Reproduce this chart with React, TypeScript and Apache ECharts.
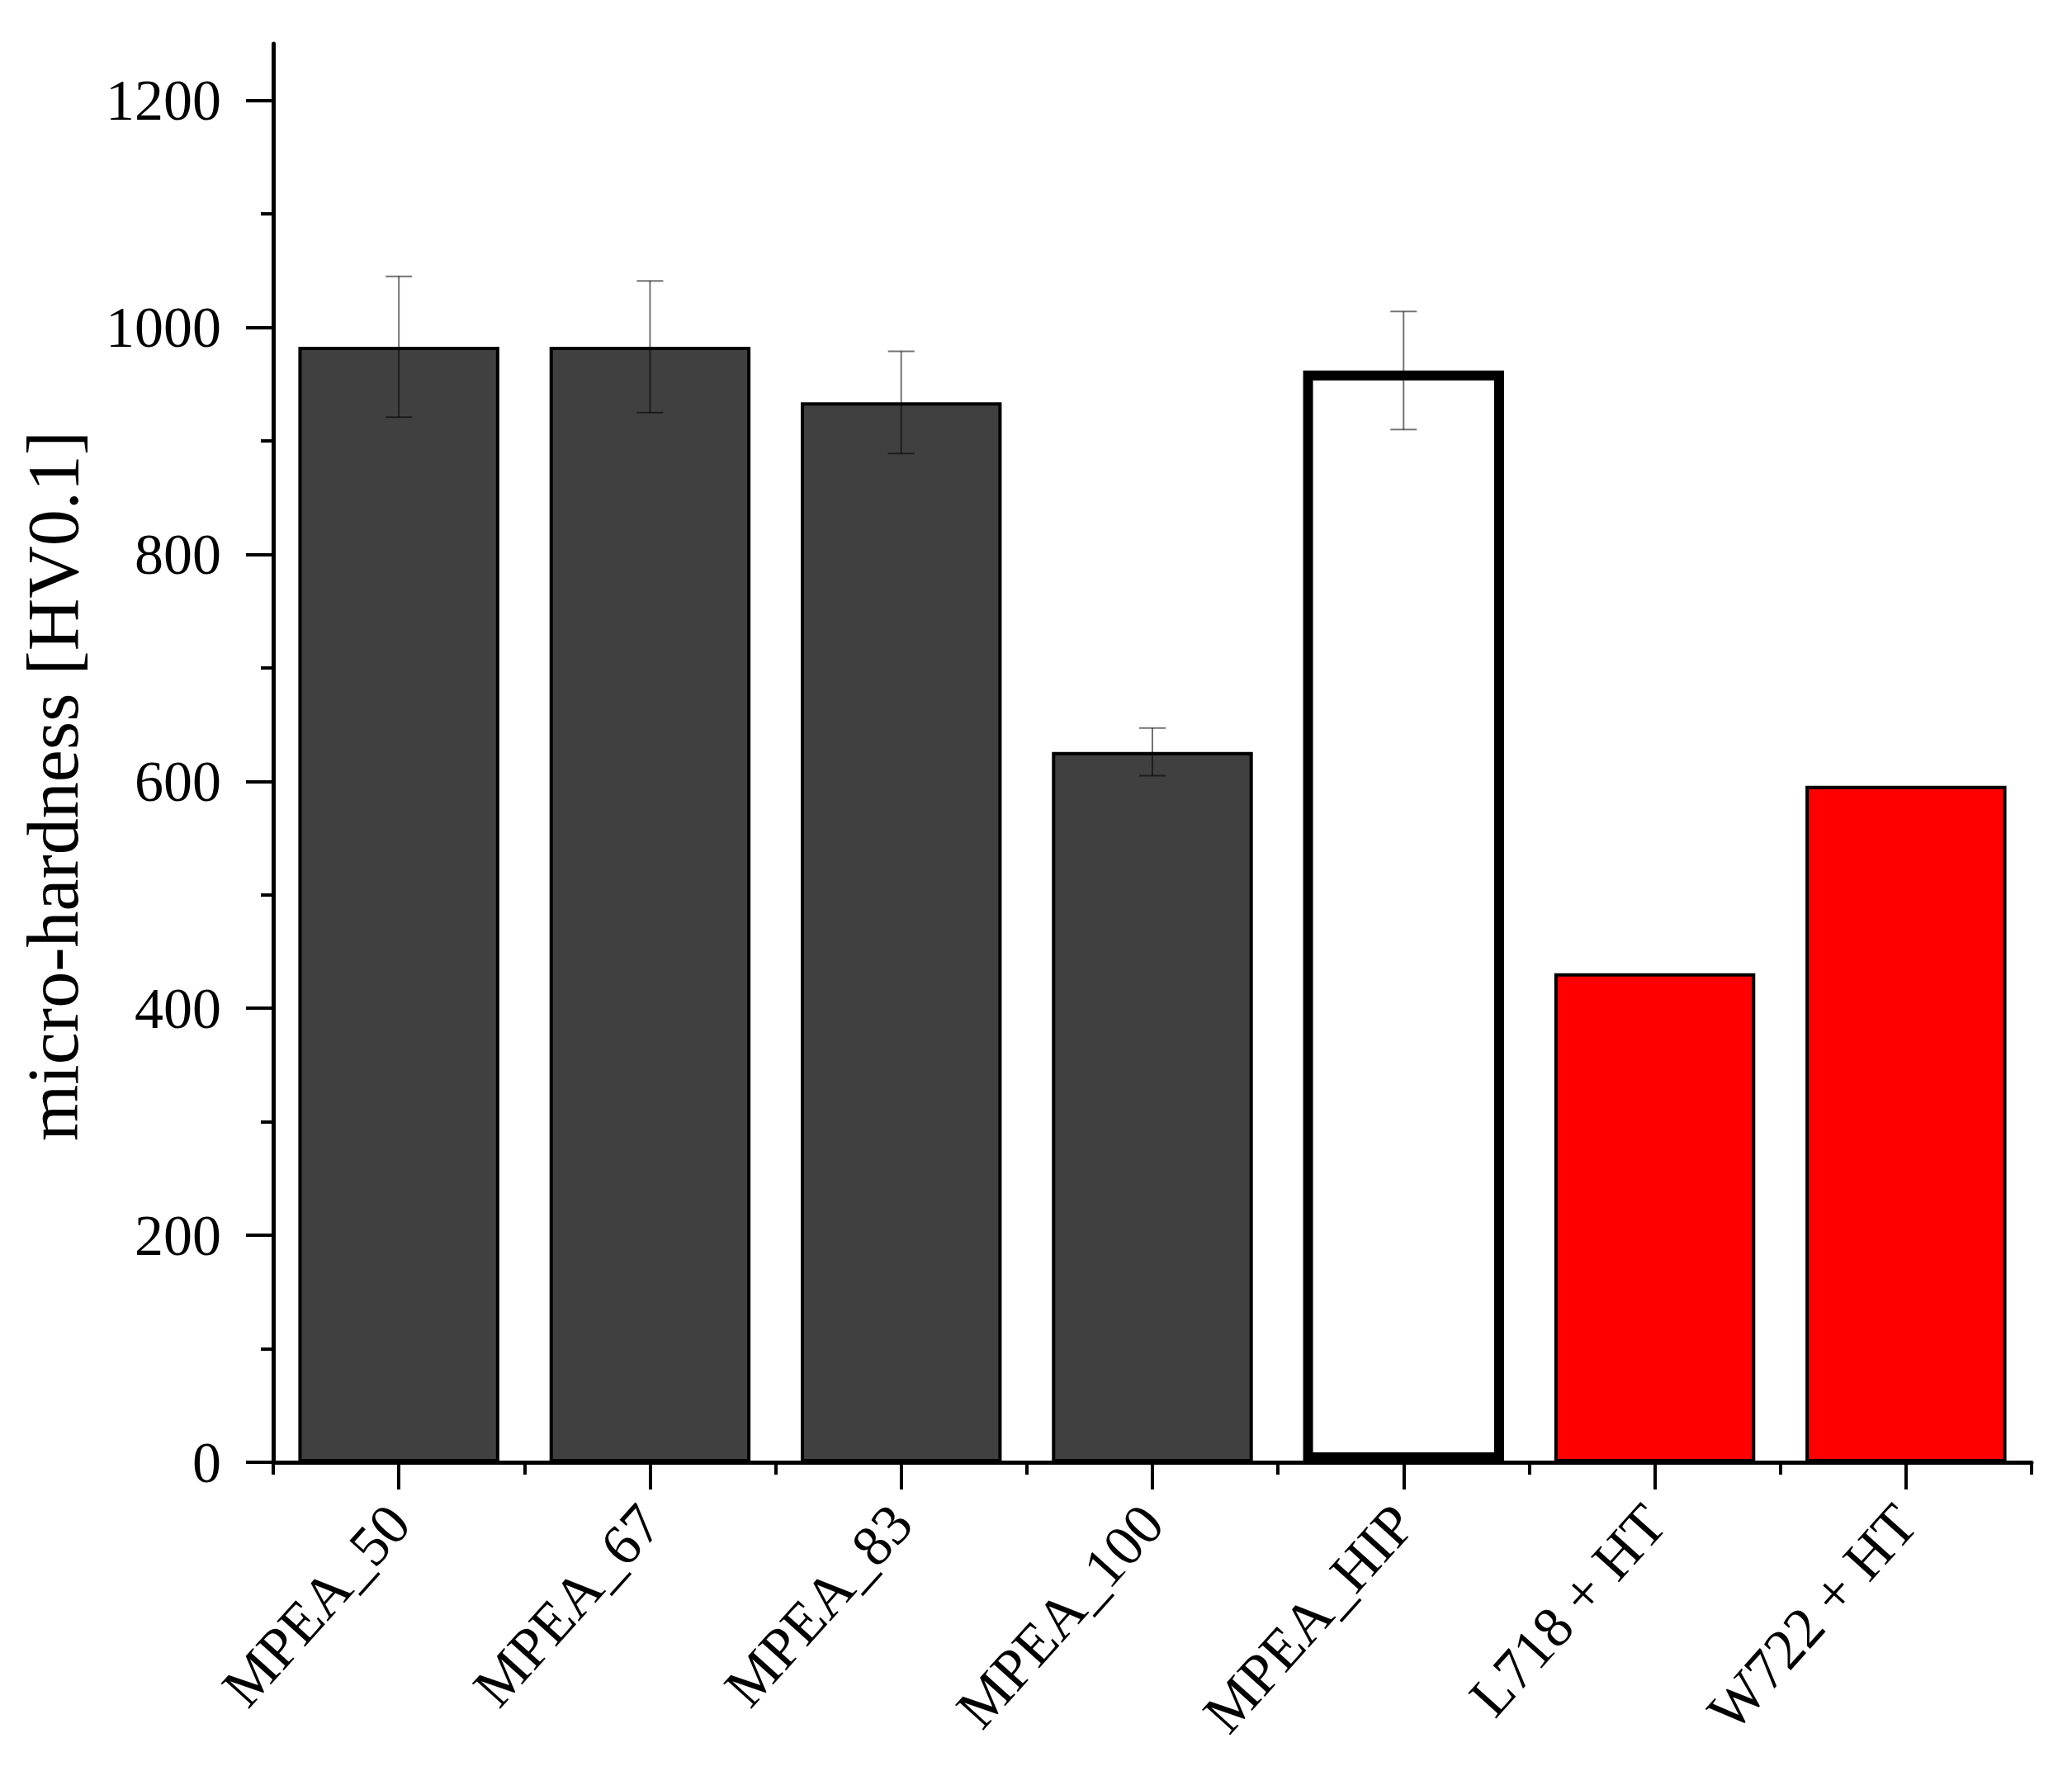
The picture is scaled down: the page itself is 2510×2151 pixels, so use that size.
import React, { useEffect, useRef } from "react";
import * as echarts from "echarts";

const categories = ["MPEA_50", "MPEA_67", "MPEA_83", "MPEA_100", "MPEA_HIP", "L718 + HT", "W722 + HT"];
const hardness = [983, 983, 934, 626, 962, 431, 596];
const hardnessErr = [62, 58, 45, 21, 52, null, null];
const groups = ["MPEA", "MPEA", "MPEA", "MPEA", "HIP", "ref", "ref"];
const yMajorTicks = [0, 200, 400, 600, 800, 1000, 1200];
const yMinorTicks = [100, 300, 500, 700, 900, 1100];
const yTitle = "micro-hardness [HV0.1]";

const FONT = "'Liberation Serif', 'Times New Roman', serif";

const groupStyles: Record<string, any> = {
  MPEA: { color: "#404040", borderColor: "#000", borderWidth: 4 },
  HIP: { color: "#ffffff", borderColor: "#000", borderWidth: 12 },
  ref: { color: "#ff0000", borderColor: "#000", borderWidth: 4 },
};

export default function App() {
  const ref = useRef<HTMLDivElement>(null);
  useEffect(() => {
    if (!ref.current) return;
    const chart = echarts.init(ref.current, null, { renderer: "svg" });
    const errData = hardness
      .map((v, i) => (hardnessErr[i] == null ? null : [i, v - (hardnessErr[i] as number), v + (hardnessErr[i] as number)]))
      .filter((d) => d !== null);
    const errStroke = "rgba(0,0,0,0.55)";
    chart.setOption({
      animation: false,
      backgroundColor: "#fff",
      grid: { left: 331, right: 49, top: 53, bottom: 380, containLabel: false },
      xAxis: [
        {
          type: "category",
          data: categories,
          position: "bottom",
          axisLine: { show: true, onZero: false, lineStyle: { color: "#000", width: 5 } },
          axisTick: { show: true, alignWithLabel: true, length: 33, lineStyle: { color: "#000", width: 4 } },
          axisLabel: {
            rotate: 48,
            margin: 62,
            fontSize: 70,
            fontFamily: FONT,
            color: "#000",
            interval: 0,
          },
          splitLine: { show: false },
        },
        {
          type: "category",
          data: categories,
          position: "bottom",
          offset: 0,
          axisLine: { show: false },
          axisTick: { show: true, alignWithLabel: false, length: 15, lineStyle: { color: "#000", width: 4 } },
          axisLabel: { show: false },
          splitLine: { show: false },
        },
      ],
      yAxis: [
        {
          type: "value",
          min: 0,
          max: 1250,
          position: "left",
          axisLine: { show: true, onZero: false, lineStyle: { color: "#000", width: 5 } },
          axisTick: { show: true, length: 33, customValues: yMajorTicks, lineStyle: { color: "#000", width: 4 } },
          axisLabel: {
            customValues: yMajorTicks,
            formatter: (v: number) => String(v),
            margin: 63,
            fontSize: 70,
            fontFamily: FONT,
            color: "#000",
          },
          splitLine: { show: false },
          name: yTitle,
          nameLocation: "middle",
          nameRotate: 90,
          nameGap: 223,
          nameTextStyle: { fontSize: 88, fontFamily: FONT, color: "#000", padding: [0, 80, 0, 0] },
        },
        {
          type: "value",
          min: 0,
          max: 1250,
          position: "left",
          offset: 0,
          axisLine: { show: false },
          axisTick: { show: true, length: 15, customValues: yMinorTicks, lineStyle: { color: "#000", width: 4 } },
          axisLabel: { show: false },
          splitLine: { show: false },
        },
      ],
      series: [
        {
          type: "bar",
          xAxisIndex: 0,
          yAxisIndex: 0,
          barWidth: "80%",
          data: hardness.map((v, i) => ({ value: v, itemStyle: groupStyles[groups[i]] })),
          z: 2,
        },
        {
          type: "custom",
          xAxisIndex: 0,
          yAxisIndex: 0,
          z: 5,
          data: errData,
          renderItem: (params: any, api: any) => {
            const x = api.value(0);
            const lo = api.coord([x, api.value(1)]);
            const hi = api.coord([x, api.value(2)]);
            const half = 16;
            const style = { stroke: errStroke, lineWidth: 2 };
            return {
              type: "group",
              children: [
                { type: "line", shape: { x1: lo[0], y1: lo[1], x2: hi[0], y2: hi[1] }, style },
                { type: "line", shape: { x1: hi[0] - half, y1: hi[1], x2: hi[0] + half, y2: hi[1] }, style },
                { type: "line", shape: { x1: lo[0] - half, y1: lo[1], x2: lo[0] + half, y2: lo[1] }, style },
              ],
            };
          },
        },
      ],
    });
    return () => chart.dispose();
  }, []);
  return (
    <div
      ref={ref}
      style={{ position: "absolute", left: 0, top: 0, width: 2510, height: 2151, background: "#fff" }}
    />
  );
}
